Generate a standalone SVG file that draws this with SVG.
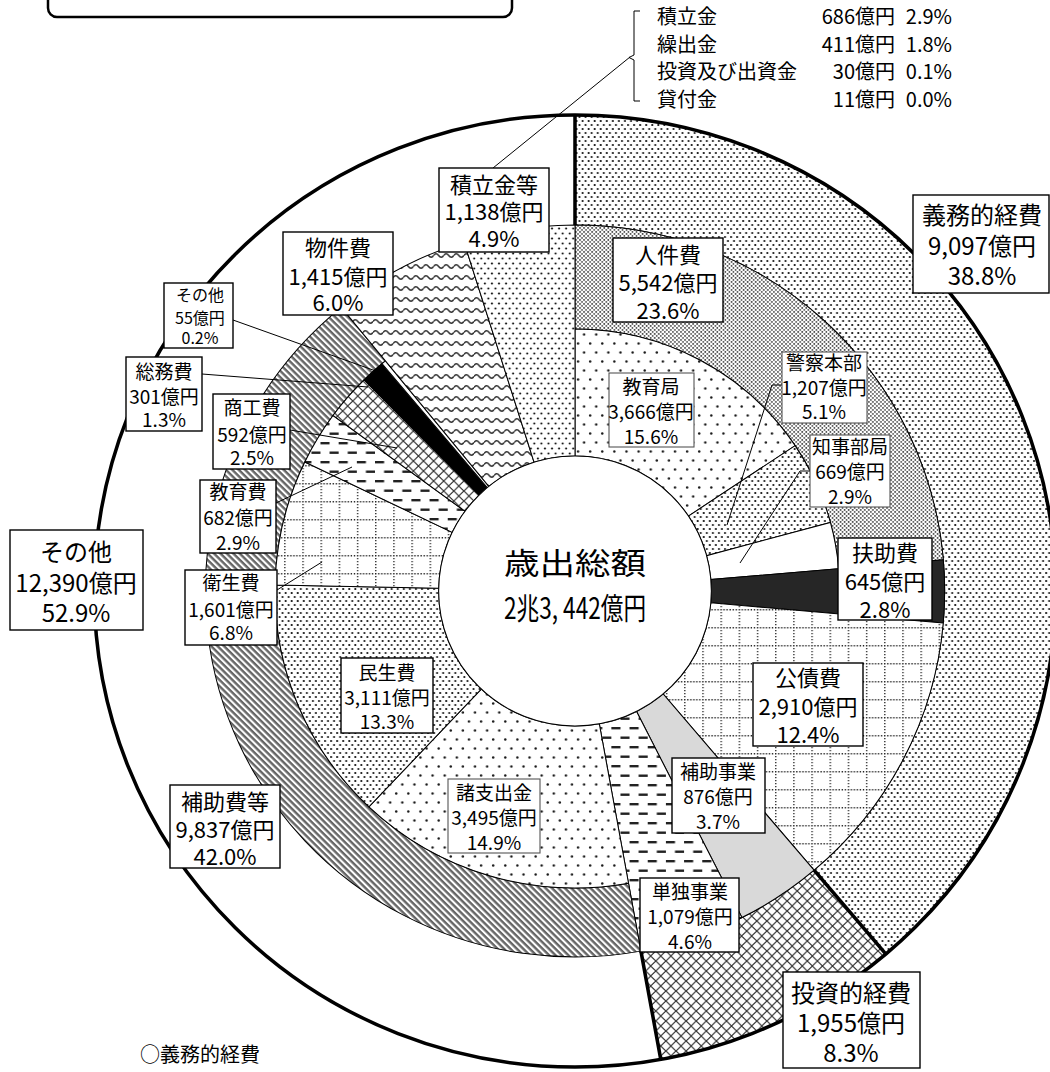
<svg xmlns="http://www.w3.org/2000/svg" width="1050" height="1072" viewBox="0 0 1050 1072">
<style>
.seg{stroke:#000;stroke-width:1}
.thick{stroke:#000;stroke-width:3.5;fill:none}
.lead{stroke:#000;stroke-width:1;fill:none}
.box{fill:#fff;stroke:#000;stroke-width:1.4}
.sbox{fill:#fff;stroke:#555;stroke-width:1.1}
text{font-family:"Noto Sans CJK JP","Noto Sans CJK SC",sans-serif;fill:#000}
.c{text-anchor:middle}
.big{font-size:24px}
.med{font-size:22px}
.sml{font-size:19px}
.tin{font-size:16px}
.leg{font-size:20px}
</style>
<defs>
<pattern id="pDotM" width="6" height="8" patternUnits="userSpaceOnUse">
<rect width="6" height="8" fill="#fff"/>
<circle cx="1.5" cy="2" r="1.05" fill="#111"/>
<circle cx="4.5" cy="6" r="1.05" fill="#111"/>
</pattern>
<pattern id="pDotS" width="4" height="4" patternUnits="userSpaceOnUse">
<rect width="4" height="4" fill="#fff"/>
<rect x="0.2" y="0.2" width="1.5" height="1.5" fill="#222"/>
<rect x="2.2" y="2.2" width="1.5" height="1.5" fill="#222"/>
</pattern>
<pattern id="pDotL" width="7" height="10" patternUnits="userSpaceOnUse">
<rect width="7" height="10" fill="#fff"/>
<circle cx="1.75" cy="2.5" r="1.1" fill="#1a1a1a"/>
<circle cx="5.25" cy="7.5" r="1.1" fill="#1a1a1a"/>
</pattern>
<pattern id="pDotXL" width="12" height="18" patternUnits="userSpaceOnUse">
<rect width="12" height="18" fill="#fff"/>
<circle cx="3" cy="4.5" r="1.2" fill="#1a1a1a"/>
<circle cx="9" cy="13.5" r="1.2" fill="#1a1a1a"/>
</pattern>
<pattern id="pGrid" width="18" height="18" patternUnits="userSpaceOnUse">
<rect width="18" height="18" fill="#fff"/>
<path d="M0,0.75H18M0.75,0V18" stroke="#222" stroke-width="1.3" stroke-dasharray="1.3,1.7" fill="none"/>
</pattern>
<pattern id="pDash" width="18" height="19" patternUnits="userSpaceOnUse">
<rect width="18" height="19" fill="#fff"/>
<rect x="0" y="3" width="9" height="2.4" fill="#222"/>
<rect x="9" y="12.5" width="9" height="2.4" fill="#222"/>
</pattern>
<pattern id="pCross" width="10" height="10" patternUnits="userSpaceOnUse">
<rect width="10" height="10" fill="#fff"/>
<path d="M0,0L10,10M10,0L0,10" stroke="#333" stroke-width="1.2" fill="none"/>
</pattern>
<pattern id="pStripe" width="4.5" height="4.5" patternUnits="userSpaceOnUse" patternTransform="rotate(45)">
<rect width="4.5" height="4.5" fill="#fff"/>
<rect width="4.5" height="2.4" fill="#666"/>
</pattern>
<pattern id="pWave" width="10" height="11" patternUnits="userSpaceOnUse">
<rect width="10" height="11" fill="#fff"/>
<path d="M0,5.5Q2.5,2 5,5.5T10,5.5" stroke="#333" stroke-width="1.5" fill="none"/>
</pattern>
</defs>

<rect width="1050" height="1072" fill="#fff"/>

<!-- title box (its text lies above the frame) -->
<rect x="48" y="-30" width="464" height="47" rx="9" fill="#fff" stroke="#000" stroke-width="2.5"/>

<g id="chart" transform="translate(575,591) scale(1.01,1)">
<path id="gimu" class="seg" fill="url(#pDotM)" d="M0,-476A476,476 0 0 1 307.84,363.05L236.70,279.15A366,366 0 0 0 0,-366Z"/>
<path id="toushi" class="seg" fill="url(#pCross)" d="M307.84,363.05A476,476 0 0 1 84.91,468.36L65.29,360.13A366,366 0 0 0 236.70,279.15Z"/>
<path id="jinken" class="seg" fill="url(#pDotS)" d="M0,-366A366,366 0 0 1 364.67,-31.21L261.05,-22.34A262,262 0 0 0 0,-262Z"/>
<path id="kyouikukyoku" class="seg" fill="url(#pDotXL)" d="M0,-262A262,262 0 0 1 217.97,-145.37L112.31,-74.90A135,135 0 0 0 0,-135Z"/>
<path id="keisatsu" class="seg" fill="url(#pDotM)" d="M217.97,-145.37A262,262 0 0 1 252.88,-68.53L130.30,-35.31A135,135 0 0 0 112.31,-74.90Z"/>
<path id="chiji" class="seg" fill="#fff" d="M252.88,-68.53A262,262 0 0 1 261.05,-22.34L134.51,-11.51A135,135 0 0 0 130.30,-35.31Z"/>
<path id="fujo" class="seg" fill="#262626" d="M364.67,-31.21A366,366 0 0 1 364.60,31.98L134.48,11.80A135,135 0 0 0 134.51,-11.51Z"/>
<path id="kousai" class="seg" fill="url(#pGrid)" d="M364.60,31.98A366,366 0 0 1 236.70,279.15L87.31,102.97A135,135 0 0 0 134.48,11.80Z"/>
<path id="hojojigyou" class="seg" fill="#d9d9d9" d="M236.70,279.15A366,366 0 0 1 165.26,326.56L60.96,120.45A135,135 0 0 0 87.31,102.97Z"/>
<path id="tandoku" class="seg" fill="url(#pDash)" d="M165.26,326.56A366,366 0 0 1 65.29,360.13L24.08,132.83A135,135 0 0 0 60.96,120.45Z"/>
<path id="hojohi" class="seg" fill="url(#pStripe)" d="M65.29,360.13A366,366 0 0 1 -231.37,-283.59L-187.75,-230.13A297,297 0 0 0 52.98,292.24Z"/>
<path id="shoshishutsu" class="seg" fill="url(#pDotXL)" d="M52.98,292.24A297,297 0 0 1 -204.06,215.80L-92.75,98.09A135,135 0 0 0 24.08,132.83Z"/>
<path id="minsei" class="seg" fill="url(#pDotM)" d="M-204.06,215.80A297,297 0 0 1 -296.94,-6.07L-134.97,-2.76A135,135 0 0 0 -92.75,98.09Z"/>
<path id="eisei" class="seg" fill="url(#pGrid)" d="M-296.94,-6.07A297,297 0 0 1 -267.50,-129.06L-121.59,-58.66A135,135 0 0 0 -134.97,-2.76Z"/>
<path id="kyouikuhi" class="seg" fill="url(#pDash)" d="M-267.50,-129.06A297,297 0 0 1 -239.59,-175.50L-108.91,-79.77A135,135 0 0 0 -121.59,-58.66Z"/>
<path id="shoukou" class="seg" fill="url(#pCross)" d="M-239.59,-175.50A297,297 0 0 1 -208.86,-211.17L-94.94,-95.98A135,135 0 0 0 -108.91,-79.77Z"/>
<path id="soumu" class="seg" fill="#000" d="M-208.86,-211.17A297,297 0 0 1 -191.11,-227.34L-86.87,-103.34A135,135 0 0 0 -94.94,-95.98Z"/>
<path id="sonota2" class="seg" fill="#fff" d="M-191.11,-227.34A297,297 0 0 1 -187.75,-230.13L-85.34,-104.60A135,135 0 0 0 -86.87,-103.34Z"/>
<path id="bukken" class="seg" fill="url(#pWave)" d="M-231.37,-283.59A366,366 0 0 1 -109.93,-349.10L-40.55,-128.76A135,135 0 0 0 -85.34,-104.60Z"/>
<path id="tsumitate" class="seg" fill="url(#pDotL)" d="M-109.93,-349.10A366,366 0 0 1 0,-366L0,-135A135,135 0 0 0 -40.55,-128.76Z"/>
<circle r="135" fill="#fff" stroke="#000" stroke-width="1"/>
<circle r="476" class="thick"/>
<path class="thick" d="M0,-366V-476M236.70,279.15L307.84,363.05M65.29,360.13L84.91,468.36"/>
</g>

<g id="connectors">
<path class="lead" stroke-width="1.3" d="M493,168L630,57"/>
<path class="lead" d="M640,11H634V55L629,57.5L634,60V101H640"/>
<path class="lead" d="M233,320L387,375"/>
<path class="lead" d="M202,374L368,387"/>
<path class="lead" d="M290,430L397,448"/>
<path class="lead" d="M276,503L352,467"/>
<path class="lead" d="M277,590L322,562"/>
<path class="lead" stroke-width="1.3" d="M782,385H772L727,525"/>
<path class="lead" stroke-width="1.3" d="M810,471H800L740,563"/>
</g>

<g id="center-label">
<text class="c" x="575" y="574" font-size="30" textLength="142" lengthAdjust="spacingAndGlyphs">歳出総額</text>
<text class="c" x="575" y="619" font-size="30" textLength="142" lengthAdjust="spacingAndGlyphs">2兆3, 442億円</text>
</g>

<g id="legend">
<text class="leg" x="657" y="24">積立金</text>
<text class="leg" x="657" y="52">繰出金</text>
<text class="leg" x="657" y="79">投資及び出資金</text>
<text class="leg" x="657" y="107">貸付金</text>
<text class="leg" x="895" y="24" text-anchor="end">686億円</text>
<text class="leg" x="895" y="52" text-anchor="end">411億円</text>
<text class="leg" x="895" y="79" text-anchor="end">30億円</text>
<text class="leg" x="895" y="107" text-anchor="end">11億円</text>
<text class="leg" x="952" y="24" text-anchor="end">2.9%</text>
<text class="leg" x="952" y="52" text-anchor="end">1.8%</text>
<text class="leg" x="952" y="79" text-anchor="end">0.1%</text>
<text class="leg" x="952" y="107" text-anchor="end">0.0%</text>
</g>

<g id="lbl-gimu"><rect class="box" x="913" y="195" width="136" height="98"/>
<text class="c big"><tspan x="982" y="224">義務的経費</tspan><tspan x="982" y="255">9,097億円</tspan><tspan x="982" y="285">38.8%</tspan></text></g>
<g id="lbl-toushi"><rect class="box" x="783" y="972" width="137" height="96"/>
<text class="c big"><tspan x="851" y="1002">投資的経費</tspan><tspan x="851" y="1032">1,955億円</tspan><tspan x="851" y="1062">8.3%</tspan></text></g>
<g id="lbl-sonota"><rect class="box" x="10" y="530" width="133" height="100"/>
<text class="c big"><tspan x="76" y="561">その他</tspan><tspan x="76" y="592">12,390億円</tspan><tspan x="76" y="622">52.9%</tspan></text></g>

<g id="lbl-tsumitate"><rect class="box" x="439" y="168" width="110" height="84"/>
<text class="c med"><tspan x="494" y="193">積立金等</tspan><tspan x="494" y="220">1,138億円</tspan><tspan x="494" y="247">4.9%</tspan></text></g>
<g id="lbl-jinken"><rect class="box" x="613" y="238" width="110" height="84"/>
<text class="c med"><tspan x="668" y="263">人件費</tspan><tspan x="668" y="291">5,542億円</tspan><tspan x="668" y="319">23.6%</tspan></text></g>
<g id="lbl-bukken"><rect class="box" x="283" y="232" width="110" height="83"/>
<text class="c med"><tspan x="338" y="256">物件費</tspan><tspan x="338" y="285">1,415億円</tspan><tspan x="338" y="311">6.0%</tspan></text></g>
<g id="lbl-fujo"><rect class="box" x="838" y="538" width="94" height="82"/>
<text class="c med"><tspan x="885" y="561">扶助費</tspan><tspan x="885" y="590">645億円</tspan><tspan x="885" y="618">2.8%</tspan></text></g>
<g id="lbl-kousai"><rect class="box" x="753" y="663" width="110" height="83"/>
<text class="c med"><tspan x="808" y="686">公債費</tspan><tspan x="808" y="715">2,910億円</tspan><tspan x="808" y="743">12.4%</tspan></text></g>
<g id="lbl-hojohi"><rect class="box" x="170" y="785" width="110" height="83"/>
<text class="c med"><tspan x="225" y="810">補助費等</tspan><tspan x="225" y="838">9,837億円</tspan><tspan x="225" y="865">42.0%</tspan></text></g>

<g id="lbl-kyouikukyoku"><rect class="sbox" x="609" y="373" width="85" height="74"/>
<text class="c sml"><tspan x="651" y="394">教育局</tspan><tspan x="651" y="419">3,666億円</tspan><tspan x="651" y="444">15.6%</tspan></text></g>
<g id="lbl-keisatsu"><rect class="sbox" x="782" y="352" width="85" height="71"/>
<text class="c sml"><tspan x="824" y="370">警察本部</tspan><tspan x="824" y="395">1,207億円</tspan><tspan x="824" y="419">5.1%</tspan></text></g>
<g id="lbl-chiji"><rect class="sbox" x="810" y="435" width="80" height="72"/>
<text class="c sml"><tspan x="850" y="454">知事部局</tspan><tspan x="850" y="479">669億円</tspan><tspan x="850" y="504">2.9%</tspan></text></g>
<g id="lbl-hojojigyou"><rect class="box" x="672" y="758" width="93" height="75"/>
<text class="c sml"><tspan x="718" y="779">補助事業</tspan><tspan x="718" y="804">876億円</tspan><tspan x="718" y="829">3.7%</tspan></text></g>
<g id="lbl-tandoku"><rect class="box" x="640" y="878" width="99" height="74"/>
<text class="c sml"><tspan x="690" y="899">単独事業</tspan><tspan x="690" y="924">1,079億円</tspan><tspan x="690" y="949">4.6%</tspan></text></g>
<g id="lbl-minsei"><rect class="box" x="341" y="658" width="92" height="75"/>
<text class="c sml"><tspan x="387" y="680">民生費</tspan><tspan x="387" y="705">3,111億円</tspan><tspan x="387" y="729">13.3%</tspan></text></g>
<g id="lbl-shoshishutsu"><rect class="sbox" x="448" y="779" width="92" height="74"/>
<text class="c sml"><tspan x="494" y="800">諸支出金</tspan><tspan x="494" y="825">3,495億円</tspan><tspan x="494" y="850">14.9%</tspan></text></g>
<g id="lbl-eisei"><rect class="box" x="185" y="570" width="92" height="75"/>
<text class="c sml"><tspan x="231" y="590">衛生費</tspan><tspan x="231" y="617">1,601億円</tspan><tspan x="231" y="640">6.8%</tspan></text></g>
<g id="lbl-kyouikuhi"><rect class="box" x="200" y="480" width="76" height="73"/>
<text class="c sml"><tspan x="238" y="499">教育費</tspan><tspan x="238" y="525">682億円</tspan><tspan x="238" y="550">2.9%</tspan></text></g>
<g id="lbl-shoukou"><rect class="box" x="213" y="394" width="77" height="75"/>
<text class="c sml"><tspan x="252" y="415">商工費</tspan><tspan x="252" y="442">592億円</tspan><tspan x="252" y="465">2.5%</tspan></text></g>
<g id="lbl-soumu"><rect class="box" x="126" y="357" width="76" height="74"/>
<text class="c sml"><tspan x="164" y="379">総務費</tspan><tspan x="164" y="404">301億円</tspan><tspan x="164" y="427">1.3%</tspan></text></g>
<g id="lbl-sonota2"><rect class="box" x="164" y="283" width="69" height="65"/>
<text class="c tin"><tspan x="200" y="301">その他</tspan><tspan x="200" y="324">55億円</tspan><tspan x="200" y="344">0.2%</tspan></text></g>

<text x="140" y="1062" font-size="20">○義務的経費</text>
</svg>
